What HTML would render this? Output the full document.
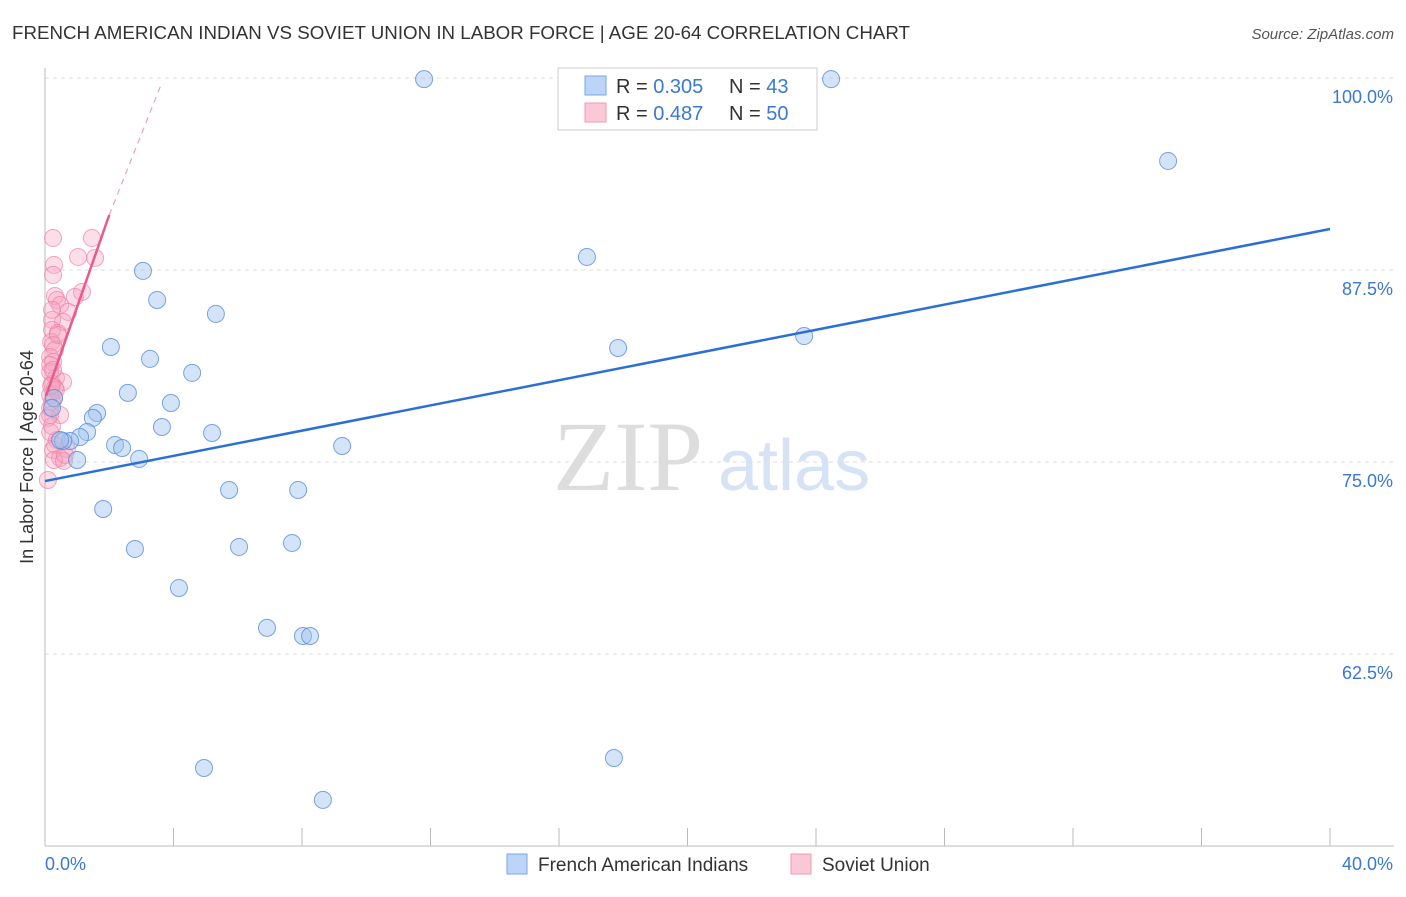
<!DOCTYPE html>
<html><head><meta charset="utf-8"><style>
body{margin:0;background:#fff;font-family:"Liberation Sans",sans-serif;}
</style></head><body>
<svg id="chart" width="1406" height="892" viewBox="0 0 1406 892" font-family="Liberation Sans, sans-serif">
<text x="12" y="39" font-size="18" fill="#333" textLength="898" lengthAdjust="spacingAndGlyphs">FRENCH AMERICAN INDIAN VS SOVIET UNION IN LABOR FORCE | AGE 20-64 CORRELATION CHART</text>
<text x="1394" y="39" font-size="15" fill="#555" font-style="italic" text-anchor="end">Source: ZipAtlas.com</text>
<text x="33" y="457" font-size="18" fill="#333" text-anchor="middle" transform="rotate(-90 33 457)">In Labor Force | Age 20-64</text>
<g id="grid"></g>
<g id="axes"></g>
<text x="553" y="490" font-size="100" fill="#ddd" style="font-family:'Liberation Serif',serif">ZIP</text>
<text x="718" y="490" font-size="72" fill="#d6e3f5">atlas</text>
<g id="pinkpts"></g>
<g id="bluepts"></g>
<g id="lines"></g>
<g>
<rect x="558" y="68" width="259" height="62" fill="#fff" stroke="#ccc"/>
<rect x="585" y="76" width="21" height="19" fill="#bcd4f7" stroke="#7aa6e8"/>
<rect x="585" y="103" width="21" height="19" fill="#fbc8d8" stroke="#f29ab5"/>
<text x="616" y="93" font-size="20" fill="#333">R = <tspan fill="#3a78d4">0.305</tspan></text>
<text x="729" y="93" font-size="20" fill="#333">N = <tspan fill="#3a78d4">43</tspan></text>
<text x="616" y="120" font-size="20" fill="#333">R = <tspan fill="#3a78d4">0.487</tspan></text>
<text x="729" y="120" font-size="20" fill="#333">N = <tspan fill="#3a78d4">50</tspan></text>
</g>
<g>
<rect x="507" y="854" width="20" height="20" fill="#bcd4f7" stroke="#7aa6e8"/>
<text x="538" y="871" font-size="19" fill="#333">French American Indians</text>
<rect x="791" y="854" width="20" height="20" fill="#fbc8d8" stroke="#f29ab5"/>
<text x="822" y="871" font-size="19" fill="#333">Soviet Union</text>
</g>
</svg>
<script>
const yTicks=[100,87.5,75,62.5];
const yTickLabels=["100.0%","87.5%","75.0%","62.5%"];
const xTicks=[0,4,8,12,16,20,24,28,32,36,40];
const blueX=[11.80,24.47,34.96,16.87,3.05,3.49,5.32,17.84,23.63,2.05,3.27,4.58,2.58,3.92,1.62,1.49,3.64,5.20,1.31,1.09,2.18,2.40,0.78,0.56,0.47,2.93,1.00,9.25,0.28,0.22,5.73,7.88,1.81,7.69,6.04,2.80,4.17,6.91,8.03,8.25,4.95,17.71,8.65];
const blueY=[99.93,99.93,94.6,88.35,87.44,85.55,84.64,82.42,83.2,82.49,81.71,80.8,79.5,78.84,78.19,77.87,77.28,76.89,76.95,76.63,76.11,75.91,76.37,76.37,76.43,75.2,75.13,76.04,79.17,78.52,73.18,73.18,71.94,69.73,69.47,69.34,66.8,64.2,63.67,63.67,55.08,55.73,53.0];
const pinkX=[0.25,1.46,1.03,1.56,0.28,0.25,1.15,0.31,0.37,0.93,0.47,0.72,0.56,0.22,0.22,0.40,0.19,0.25,0.31,0.16,0.25,0.16,0.34,0.56,0.22,0.31,0.16,0.28,0.22,0.16,0.47,0.16,0.09,0.37,0.31,0.25,0.68,0.47,0.28,0.59,0.09,0.16,0.22,0.34,0.19,0.40,0.22,0.16,0.25,0.62];
const pinkY=[89.58,89.58,88.35,88.29,87.83,87.18,86.07,85.81,85.55,85.74,85.22,84.77,84.12,84.25,83.6,83.4,82.81,82.62,82.3,81.84,81.51,80.86,80.47,80.21,80.08,79.82,79.36,79.17,78.91,78.52,78.06,78.06,77.87,76.43,76.11,75.78,75.85,75.26,75.13,75.07,73.83,76.95,77.34,79.69,79.95,83.27,84.90,81.32,80.99,75.46];
const blueTrendX=[0,40], blueTrendY=[73.76,90.17];
const pinkTrendX=[0.03,2.0], pinkTrendY=[79.3,91.08];
const pinkDashX=[2.0,3.6], pinkDashY=[91.08,99.5];

const NS="http://www.w3.org/2000/svg";
const X0=45,X1=1330;
const sx=v=>X0+(v/40)*(X1-X0);
const sy=v=>78+(100-v)*15.36;
function mk(tag,attrs,parent){const e=document.createElementNS(NS,tag);for(const k in attrs)e.setAttribute(k,attrs[k]);parent.appendChild(e);return e;}
const grid=document.getElementById('grid'),axes=document.getElementById('axes');
yTicks.forEach((t,i)=>{
  const l=mk('line',{x1:X0,x2:1394,y1:sy(t),y2:sy(t),stroke:'#ddd','stroke-dasharray':'4,4'},grid);
  
  
  const tx=mk('text',{x:1393,y:sy(t)+25,'font-size':18,fill:'#3a78d4','text-anchor':'end'},axes);
  tx.textContent=yTickLabels[i];
  
  
});
const ya=mk('line',{x1:X0,x2:X0,y1:68,y2:846,stroke:'#bbb'},axes);


const xa=mk('line',{x1:X0,x2:1394,y1:846,y2:846,stroke:'#bbb'},axes);


xTicks.forEach(t=>{
  const l=mk('line',{x1:sx(t),x2:sx(t),y1:828,y2:846,stroke:'#bbb'},axes);
  
  
});
const xl0=mk('text',{x:45,y:870,'font-size':18,fill:'#3a78d4'},axes);xl0.textContent='0.0%';


const xl1=mk('text',{x:1393,y:870,'font-size':18,fill:'#3a78d4','text-anchor':'end'},axes);xl1.textContent='40.0%';


const pp=document.getElementById('pinkpts');
pinkX.forEach((x,i)=>{
  const c=mk('circle',{cx:sx(x),cy:sy(pinkY[i]),r:8.5,fill:'rgba(246,160,188,0.35)',stroke:'rgba(238,130,165,0.7)','stroke-width':1},pp);
  
  
});
const bp=document.getElementById('bluepts');
blueX.forEach((x,i)=>{
  const c=mk('circle',{cx:sx(x),cy:sy(blueY[i]),r:8.5,fill:'rgba(160,195,240,0.45)',stroke:'rgba(90,140,220,0.8)','stroke-width':1},bp);
  
  
});
const lg=document.getElementById('lines');
const bl=mk('line',{x1:sx(blueTrendX[0]),y1:sy(blueTrendY[0]),x2:sx(blueTrendX[1]),y2:sy(blueTrendY[1]),stroke:'#2a6fd6','stroke-width':2.5},lg);


const pl=mk('line',{x1:sx(pinkTrendX[0]),y1:sy(pinkTrendY[0]),x2:sx(pinkTrendX[1]),y2:sy(pinkTrendY[1]),stroke:'#e85a8a','stroke-width':2.5},lg);


const pd=mk('line',{x1:sx(pinkDashX[0]),y1:sy(pinkDashY[0]),x2:sx(pinkDashX[1]),y2:sy(pinkDashY[1]),stroke:'#f0a0bb','stroke-width':1.2,'stroke-dasharray':'6,5'},lg);


</script>
</body></html>
